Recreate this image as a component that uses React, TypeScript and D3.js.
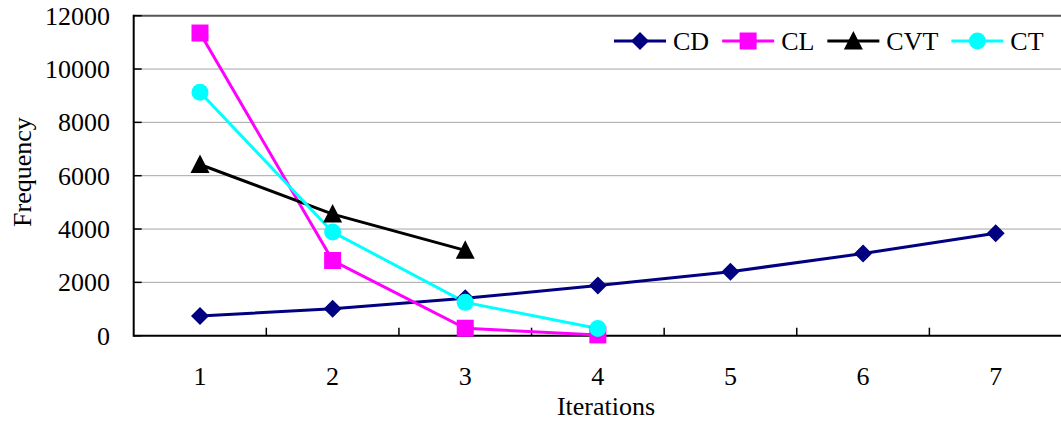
import React, { useEffect, useRef } from "react";
import * as d3 from "d3";

const iterations = ["1", "2", "3", "4", "5", "6", "7"];
const yTicks = [0, 2000, 4000, 6000, 8000, 10000, 12000];

const cdValues = [740, 1010, 1400, 1880, 2400, 3080, 3840];
const clValues = [11350, 2820, 280, 30];
const cvtValues = [6420, 4560, 3200];
const ctValues = [9130, 3890, 1250, 270];

const seriesNames = ["CD", "CL", "CVT", "CT"];
const seriesColors = ["#000080", "#FF00FF", "#000000", "#00FFFF"];
const seriesSymbols = ["diamond", "square", "triangle", "circle"];

const W = 1061;
const H = 423;
const FONT = "'Liberation Serif', 'Times New Roman', serif";

function drawMarker(g: any, kind: string, x: number, y: number, color: string) {
  if (kind === "diamond") {
    const s = 9;
    g.append("path")
      .attr("d", `M${x},${y - s}L${x + s},${y}L${x},${y + s}L${x - s},${y}Z`)
      .attr("fill", color);
  } else if (kind === "square") {
    const s = 8.5;
    g.append("rect")
      .attr("x", x - s)
      .attr("y", y - s)
      .attr("width", 2 * s)
      .attr("height", 2 * s)
      .attr("fill", color);
  } else if (kind === "triangle") {
    g.append("path")
      .attr("d", `M${x},${y - 10}L${x + 9.5},${y + 8.5}L${x - 9.5},${y + 8.5}Z`)
      .attr("fill", color);
  } else {
    g.append("circle").attr("cx", x).attr("cy", y).attr("r", 8.5).attr("fill", color);
  }
}

export default function App() {
  const ref = useRef<SVGSVGElement | null>(null);

  useEffect(() => {
    const svg = d3.select(ref.current);
    svg.selectAll("*").remove();

    const left = 133.7;
    const right = 1062;
    const top = 15.7;
    const bottom = 335.7;

    const x = d3.scaleBand<string>().domain(iterations).range([left, right]);
    const y = d3.scaleLinear().domain([0, 12000]).range([bottom, top]);
    const cx = (i: number) => (x(iterations[i]) as number) + x.bandwidth() / 2;

    // horizontal gridlines
    svg
      .append("g")
      .selectAll("line")
      .data(yTicks.filter((t) => t > 0))
      .join("line")
      .attr("x1", left)
      .attr("x2", W)
      .attr("y1", (d) => y(d))
      .attr("y2", (d) => y(d))
      .attr("stroke", (d) => (d === 12000 ? "#555" : "#a6a6a6"))
      .attr("stroke-width", (d) => (d === 12000 ? 2 : 1));

    // axes
    const axes = svg.append("g").attr("stroke", "#000");
    axes.append("line").attr("x1", left).attr("x2", left).attr("y1", top - 1).attr("y2", bottom + 1).attr("stroke-width", 2);
    axes.append("line").attr("x1", left).attr("x2", W).attr("y1", bottom).attr("y2", bottom).attr("stroke-width", 2);

    // y ticks (inward)
    axes
      .selectAll("line.yt")
      .data(yTicks)
      .join("line")
      .attr("class", "yt")
      .attr("x1", left)
      .attr("x2", left + 8)
      .attr("y1", (d) => y(d))
      .attr("y2", (d) => y(d))
      .attr("stroke-width", 1.5);

    // x ticks at category boundaries (inward)
    axes
      .selectAll("line.xt")
      .data(iterations.slice(1))
      .join("line")
      .attr("class", "xt")
      .attr("x1", (d) => x(d) as number)
      .attr("x2", (d) => x(d) as number)
      .attr("y1", bottom)
      .attr("y2", bottom - 8)
      .attr("stroke-width", 1.5);

    // y tick labels
    svg
      .append("g")
      .selectAll("text")
      .data(yTicks)
      .join("text")
      .attr("x", 110)
      .attr("y", (d) => y(d) + 9)
      .attr("text-anchor", "end")
      .attr("font-family", FONT)
      .attr("font-size", 26)
      .text((d) => String(d));

    // x tick labels
    svg
      .append("g")
      .selectAll("text")
      .data(iterations)
      .join("text")
      .attr("x", (d, i) => cx(i))
      .attr("y", 385)
      .attr("text-anchor", "middle")
      .attr("font-family", FONT)
      .attr("font-size", 26)
      .text((d) => d);

    // axis titles
    svg
      .append("text")
      .attr("x", 606)
      .attr("y", 415)
      .attr("text-anchor", "middle")
      .attr("font-family", FONT)
      .attr("font-size", 26)
      .text("Iterations");
    svg
      .append("text")
      .attr("transform", `translate(31,172) rotate(-90)`)
      .attr("text-anchor", "middle")
      .attr("font-family", FONT)
      .attr("font-size", 26)
      .text("Frequency");

    // series
    const allSeries = [cdValues, clValues, cvtValues, ctValues];
    const lineGen = d3
      .line<number>()
      .x((d, i) => cx(i))
      .y((d) => y(d));

    const plot = svg.append("g");
    allSeries.forEach((vals, si) => {
      plot
        .append("path")
        .attr("d", lineGen(vals) as string)
        .attr("fill", "none")
        .attr("stroke", seriesColors[si])
        .attr("stroke-width", 3);
    });
    allSeries.forEach((vals, si) => {
      vals.forEach((v, i) => drawMarker(plot, seriesSymbols[si], cx(i), y(v), seriesColors[si]));
    });

    // legend
    const legend = svg.append("g");
    let lx = 614;
    const ly = 41;
    seriesNames.forEach((name, si) => {
      legend
        .append("line")
        .attr("x1", lx)
        .attr("x2", lx + 52)
        .attr("y1", ly)
        .attr("y2", ly)
        .attr("stroke", seriesColors[si])
        .attr("stroke-width", 3);
      drawMarker(legend, seriesSymbols[si], lx + 26, ly, seriesColors[si]);
      const t = legend
        .append("text")
        .attr("x", lx + 59)
        .attr("y", ly + 9)
        .attr("font-family", FONT)
        .attr("font-size", 26)
        .text(name);
      const w = (t.node() as SVGTextElement).getComputedTextLength();
      lx += 59 + w + 13;
    });
  }, []);

  return (
    <svg
      ref={ref}
      width={W}
      height={H}
      style={{ position: "absolute", left: 0, top: 0, background: "#fff" }}
    />
  );
}
